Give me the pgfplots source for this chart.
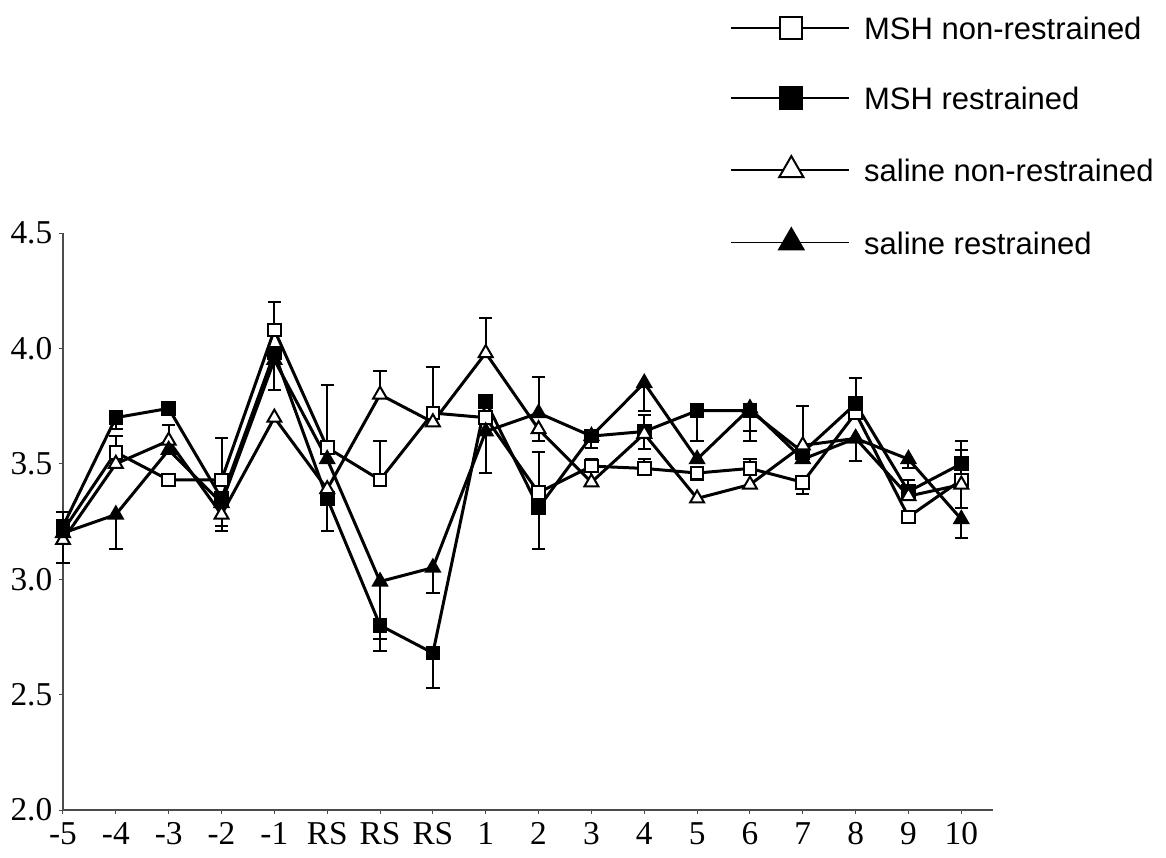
\documentclass[border=0pt]{standalone}
\usepackage{pgfplots}
\pgfplotsset{compat=1.18}
\usepackage{fontspec}
\setmainfont{Liberation Serif}
\newfontfamily\arialfont{Liberation Sans}
\pgfplotsset{eb/.style={forget plot, draw=none, mark=none,
  error bars/y explicit,
  error bars/error bar style={draw=black, line width=0.6pt, solid},
  error bars/error mark options={rotate=90, draw=black, mark size=2pt, line width=0.6pt}}}
\begin{document}
\begin{tikzpicture}
\path[use as bounding box] (-18.9pt,-14.1pt) rectangle (330.9pt,243pt);
\begin{axis}[
  at={(0,0)}, anchor=south west,
  scale only axis, width=279pt, height=173.1pt,
  xmin=0, xmax=17.6, ymin=2, ymax=4.5,
  axis x line*=bottom, axis y line*=left,
  axis line style={line width=0.4pt, black!70},
  xtick={0,...,17},
  xticklabels={-5,-4,-3,-2,-1,RS,RS,RS,1,2,3,4,5,6,7,8,9,10},
  ytick={2,2.5,3,3.5,4,4.5},
  yticklabel style={xshift=1.5pt, /pgf/number format/.cd, fixed, fixed zerofill, precision=1},
  /pgf/number format/assume math mode=true,
  tick label style={font=\fontsize{10}{12}\selectfont},
  major tick length=1.2pt, tick align=outside,
  tick style={black!70, line width=0.3pt},
  xticklabel style={yshift=1pt},
  clip=false,
  legend style={at={(0.717,1.377)}, anchor=north west, draw=none, fill=none,
    inner sep=0pt, row sep=14pt, column sep=4.2pt,
    nodes={inner sep=0pt, text height=7pt, text depth=0pt},
    font=\arialfont\fontsize{9.3}{11}\selectfont},
  legend cell align=left,
  legend image code/.code={\draw[#1, line width=0.5pt, every mark/.append style={scale=1.75}, mark repeat=2, mark phase=2] plot coordinates {(0pt,0pt) (18pt,0pt) (35.4pt,0pt)};},
  every axis plot/.append style={black, line width=0.9pt},
]
% MSH non-restrained
\addplot[mark=square*, mark options={fill=white, mark size=1.9pt, line width=0.6pt}] coordinates {
(0,3.21) (1,3.55) (2,3.43) (3,3.43) (4,4.08) (5,3.57) (6,3.43) (7,3.72) (8,3.70)
(9,3.375) (10,3.49) (11,3.48) (12,3.46) (13,3.48) (14,3.42) (15,3.72) (16,3.27) (17,3.43)};
\addlegendentry{MSH non-restrained}
% MSH restrained
\addplot[mark=square*, mark options={fill=black, mark size=1.9pt, line width=0.6pt}] coordinates {
(0,3.23) (1,3.70) (2,3.74) (3,3.35) (4,3.98) (5,3.35) (6,2.80) (7,2.68) (8,3.77)
(9,3.31) (10,3.62) (11,3.64) (12,3.73) (13,3.73) (14,3.55) (15,3.76) (16,3.38) (17,3.50)};
\addlegendentry{MSH restrained}
% saline non-restrained
\addplot[mark=triangle*, mark options={fill=white, mark size=2.4pt, line width=0.6pt}] coordinates {
(0,3.17) (1,3.50) (2,3.60) (3,3.28) (4,3.70) (5,3.39) (6,3.80) (7,3.68) (8,3.98)
(9,3.65) (10,3.42) (11,3.63) (12,3.35) (13,3.41) (14,3.58) (15,3.61) (16,3.36) (17,3.41)};
\addlegendentry{saline non-restrained}
% saline restrained
\addplot[mark=triangle*, mark options={fill=black, mark size=2.4pt, line width=0.6pt}] coordinates {
(0,3.20) (1,3.28) (2,3.56) (3,3.33) (4,3.95) (5,3.52) (6,2.99) (7,3.05) (8,3.64)
(9,3.72) (10,3.62) (11,3.85) (12,3.52) (13,3.74) (14,3.52) (15,3.61) (16,3.52) (17,3.26)};
\addlegendentry{saline restrained}
% error bars (upward)
\addplot[eb, error bars/y dir=plus] coordinates {
(1,3.55) +- (0,0.07) (3,3.43) +- (0,0.18) (4,4.08) +- (0,0.12) (5,3.57) +- (0,0.27)
(6,3.43) +- (0,0.17) (7,3.72) +- (0,0.20) (9,3.375) +- (0,0.175) (11,3.48) +- (0,0.04)
(13,3.48) +- (0,0.04) (17,3.43) +- (0,0.13)};
\addplot[eb, error bars/y dir=plus] coordinates {
(0,3.23) +- (0,0.06) (11,3.64) +- (0,0.07) (15,3.76) +- (0,0.11) (16,3.38) +- (0,0.05) (17,3.50) +- (0,0.10)};
\addplot[eb, error bars/y dir=plus] coordinates {
(6,3.80) +- (0,0.10) (8,3.98) +- (0,0.15) (10,3.42) +- (0,0.10) (14,3.58) +- (0,0.17)};
\addplot[eb, error bars/y dir=plus] coordinates {
(2,3.56) +- (0,0.11) (9,3.72) +- (0,0.155)};
% error bars (downward)
\addplot[eb, error bars/y dir=minus] coordinates {
(12,3.46) +- (0,0.03) (14,3.42) +- (0,0.05)};
\addplot[eb, error bars/y dir=minus] coordinates {
(1,3.70) +- (0,0.05) (4,3.98) +- (0,0.16) (5,3.35) +- (0,0.14) (6,2.80) +- (0,0.11)
(7,2.68) +- (0,0.15) (9,3.31) +- (0,0.18) (10,3.62) +- (0,0.05) (12,3.73) +- (0,0.13) (13,3.73) +- (0,0.09)};
\addplot[eb, error bars/y dir=minus] coordinates {
(0,3.17) +- (0,0.10) (3,3.28) +- (0,0.05) (9,3.65) +- (0,0.05) (11,3.63) +- (0,0.065) (17,3.41) +- (0,0.10)};
\addplot[eb, error bars/y dir=minus] coordinates {
(1,3.28) +- (0,0.15) (3,3.33) +- (0,0.12) (6,2.99) +- (0,0.25) (7,3.05) +- (0,0.11)
(8,3.64) +- (0,0.18) (11,3.85) +- (0,0.12) (13,3.74) +- (0,0.14) (15,3.61) +- (0,0.10)
(16,3.52) +- (0,0.04) (17,3.26) +- (0,0.08)};
\end{axis}
\end{tikzpicture}
\end{document}
